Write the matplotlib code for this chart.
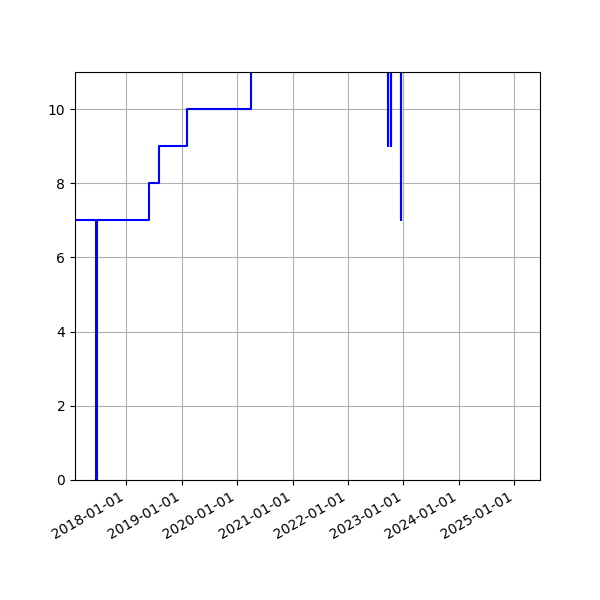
import numpy as np
import matplotlib
matplotlib.use('Agg')
import matplotlib.pyplot as plt
import matplotlib.dates as mdates

# step changes (values above 11 run off the top)
dates = ['2016-12-01', '2017-06-18', '2017-06-19', '2018-06-02',
         '2018-08-04', '2019-02-03', '2020-04-02',
         '2022-09-22', '2022-09-23', '2022-10-12', '2022-10-13',
         '2022-12-13', '2022-12-14', '2025-12-31']
values = [7, 0, 7, 8, 9, 10, 12, 9, 12, 9, 12, 7, 12, 12]

x = np.array(dates, dtype='datetime64[D]')

fig, ax = plt.subplots(figsize=(6, 6), dpi=100)
ax.plot(x, values, color='b', drawstyle='steps-post')

ax.set_xlim(np.datetime64('2017-01-28'), np.datetime64('2025-06-19'))
ax.set_ylim(0, 11)
ax.xaxis.set_major_locator(mdates.YearLocator())
ax.xaxis.set_major_formatter(mdates.DateFormatter('%Y-%m-%d'))
ax.grid(True)
fig.autofmt_xdate()

fig.savefig('out.png')
